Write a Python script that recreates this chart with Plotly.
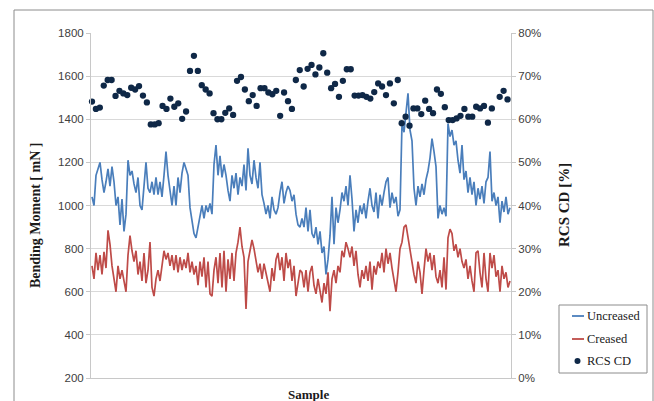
import numpy as np
import plotly.graph_objects as go

# Bending moment per sample [mN]
uncreased = [
    1040, 1000, 1140, 1170, 1200, 1120, 1060, 1110, 1170, 1090,
    1180, 1110, 1000, 1040, 910, 1030, 880, 960, 1210, 1140,
    1160, 1100, 1060, 1130, 1000, 980, 1110, 1200, 1080, 1060,
    1110, 1050, 1130, 1050, 1110, 1040, 1140, 1250, 1140, 1070,
    1000, 1090, 1000, 1130, 1060, 1150, 1200, 1170, 1140, 990,
    920, 870, 850,
    900, 950, 1000, 940, 1000, 970, 1010, 960, 1190, 1280,
    1140, 1230, 1130, 1190, 1140, 1070, 1020, 1140, 1080, 1150,
    1050, 1130, 1090, 1190, 1070, 1265, 1140, 1100, 1210, 1130,
    1080, 1200, 1050, 1010, 960, 1000, 940, 1040, 980, 960,
    990, 1060, 1110, 1010, 1060, 1090, 1070, 1020, 1050, 960,
    910, 900,
    940, 900, 990, 880, 980, 870, 850, 900, 820, 880,
    780, 810, 680, 750, 860, 1040, 820, 990, 920, 980,
    1060, 1020, 1090, 1000, 1140, 1030, 880, 980, 920, 1000,
    960, 1010, 940, 1020, 1080, 1000, 970, 1060, 940, 1050,
    1000, 1060, 1110, 1130, 990, 1060, 1010, 1040, 950, 980,
    1380, 1340, 1420, 1520, 1350, 1300, 1080, 1000, 1090, 1040,
    1100, 1050, 1120, 1160, 1220, 1310, 1250, 1180, 940, 1000,
    960, 990, 950, 1380, 1320, 1350, 1280, 1300, 1210, 1150,
    1280, 1120, 1160, 1060, 1130, 1050, 1110, 1000, 1080, 1030,
    1090, 1010, 1110, 1130, 1250, 1020, 1060, 1000, 1040, 920,
    1020, 970, 1040, 960, 990,
]

creased = [
    720, 660, 780, 700, 770, 680, 785, 710, 885, 820,
    720, 660, 600, 720, 660, 700, 640, 600, 770, 860,
    790, 740, 790, 680, 740, 650, 780, 640, 700, 830,
    620, 580, 660, 700, 650, 720, 790, 750, 780, 720,
    770, 700, 770, 690, 760, 700, 750, 710, 780, 690,
    740, 680, 720,
    630, 740, 670, 760, 620, 740, 590, 580, 700, 760,
    640, 780, 620, 790, 600, 750, 660, 780, 650, 780,
    830, 900, 810, 760, 520, 740, 790, 840, 800, 750,
    690, 730, 660, 730, 690, 640, 600, 710, 650, 750,
    780, 700, 760, 650, 780, 710, 750, 650, 720, 580,
    650, 700,
    690, 620, 700, 600, 690, 720, 630, 590, 660, 610,
    550, 640, 590, 690, 510, 660, 700, 640, 720, 690,
    790, 760, 830, 800, 760, 810, 720, 790, 680, 620,
    700, 660, 720, 650, 740, 610, 720, 680, 740, 710,
    780, 690, 800, 730, 780, 710, 660, 600, 690, 800,
    830, 900,
    910, 850, 800, 740, 680, 640, 740, 690, 590, 700,
    800, 740, 780, 700, 770, 670, 640, 700, 620, 760,
    610, 850, 890, 870, 790, 820, 760, 800, 740, 710,
    750, 660, 720, 650, 600, 780, 790, 690, 620, 780,
    660, 600, 780, 710, 770, 670, 700, 600, 720, 660,
    690, 620, 650,
]

# RCS CD [%], one value every ~2 bending samples (one missing reading)
rcs_cd = [
    64.1, 62.4, 62.7, 67.8, 69.1, 69.1, 65.4, 66.6, 66.0, 65.6,
    67.3, 66.9, 67.7, 65.5, 63.9, 58.8, 58.8, 59.1, 63.1, 62.4,
    64.8, 62.9, 63.7, 60.1, 61.8, 71.2, 74.7, 71.2, 67.9, 66.9,
    66.0, 61.4, 60.0, 60.0, 61.5, 62.5, 61.0, 68.9, 69.8, 66.9,
    64.2, 65.6, 63.1, 67.2, 67.2, 66.2, 65.8, 66.6, 60.8, 66.2,
    64.2, 62.4, 69.1, 71.4, 67.6, 71.7, 72.6, 70.4, 72.0, 75.3,
    70.8, 67.2, 68.2, 65.2, 68.9, 71.6, 71.6, 65.5, 65.5, 65.6,
    65.2, 64.8, 66.3, 68.3, 67.6, 65.6, 68.3, 63.7, 69.1, 59.1,
    60.6, 58.5, 62.5, 62.5, 61.2, 64.3, 62.4, 61.4, 66.9, 65.9,
    62.8, 59.8, 59.8, 60.2, 60.8, 62.4, 60.6, 60.6, 62.9, 62.5,
    63.1, 59.2, 62.5, None, 65.2, 66.6, 64.6,
]

left_ticks = list(range(200, 1801, 200))
right_ticks = list(range(0, 81, 10))
right_labels = [f"{v}%" for v in right_ticks]

BLUE = "#4a7ebb"
RED = "#be4b48"
NAVY = "#0f2847"
GRID = "#d9d9d9"
TICKFONT = dict(family="Liberation Sans, Arial", size=11.5, color="#404040")
SERIF = "Liberation Serif"

W, H = 654, 401
PL, PR, PT, PB = 91, 511, 33, 378  # plot-area edges in pixels

x_line = np.arange(len(uncreased))
x_dots = np.arange(len(rcs_cd)) * 1.96


def px(x):
    return (x - PL) / (PR - PL)


def py(y):
    return (PB - y) / (PB - PT)


fig = go.Figure()
fig.add_trace(go.Scatter(x=x_line, y=uncreased, mode="lines", name="Uncreased",
                         line=dict(color=BLUE, width=1.7)))
fig.add_trace(go.Scatter(x=x_line, y=creased, mode="lines", name="Creased",
                         line=dict(color=RED, width=1.7)))
fig.add_trace(go.Scatter(x=x_dots, y=rcs_cd, mode="markers", name="RCS CD",
                         yaxis="y2", cliponaxis=False,
                         marker=dict(color=NAVY, size=6.3)))

shapes = [
    # outer chart border
    dict(type="rect", xref="paper", yref="paper", x0=px(14), x1=px(653),
         y0=py(10), y1=py(420), line=dict(color="#8c8c8c", width=1),
         fillcolor="rgba(0,0,0,0)", layer="below"),
    # legend box
    dict(type="rect", xref="paper", yref="paper", x0=px(559), x1=px(647),
         y0=py(373), y1=py(305), line=dict(color="#8c8c8c", width=1),
         fillcolor="white"),
    dict(type="line", xref="paper", yref="paper", x0=px(572), x1=px(584),
         y0=py(316), y1=py(316), line=dict(color=BLUE, width=1.8)),
    dict(type="line", xref="paper", yref="paper", x0=px(572), x1=px(584),
         y0=py(339), y1=py(339), line=dict(color=RED, width=1.8)),
    dict(type="circle", xref="paper", yref="paper", x0=px(574.5), x1=px(580.5),
         y0=py(364), y1=py(358), line=dict(color=NAVY, width=0), fillcolor=NAVY),
]

annotations = [
    dict(text="<b>Bending Moment [ mN ]</b>", xref="paper", yref="paper",
         x=px(35), y=py(216), textangle=-90, showarrow=False,
         font=dict(family=SERIF, size=14, color="#1a1a1a"),
         xanchor="center", yanchor="middle"),
    dict(text="<b>RCS CD [%]</b>", xref="paper", yref="paper",
         x=px(564), y=py(205), textangle=-90, showarrow=False,
         font=dict(family=SERIF, size=15, color="#1a1a1a"),
         xanchor="center", yanchor="middle"),
    dict(text="<b>Sample</b>", xref="paper", yref="paper",
         x=px(308), y=py(394), showarrow=False,
         font=dict(family=SERIF, size=13, color="#1a1a1a"),
         xanchor="center", yanchor="middle"),
]
for label, yy in (("Uncreased", 316), ("Creased", 339), ("RCS CD", 361)):
    annotations.append(dict(text=label, xref="paper", yref="paper",
                            x=px(585), y=py(yy), showarrow=False,
                            xanchor="left", yanchor="middle",
                            font=dict(family=SERIF, size=12.5, color="#1a1a1a")))

fig.update_layout(
    width=W, height=H,
    margin=dict(l=PL, r=W - PR, t=PT, b=H - PB, pad=0),
    paper_bgcolor="white", plot_bgcolor="white",
    showlegend=False,
    shapes=shapes, annotations=annotations,
    xaxis=dict(range=[-0.5, len(uncreased) - 0.5], showticklabels=False,
               showgrid=False, zeroline=False, showline=True,
               linecolor="#c8c8c8", linewidth=1, ticks=""),
    yaxis=dict(range=[200, 1800], tickvals=left_ticks, showgrid=True,
               gridcolor=GRID, gridwidth=1, zeroline=False, showline=True,
               linecolor="#c8c8c8", linewidth=1, ticks="outside",
               ticklen=4, tickcolor="#c8c8c8", tickfont=TICKFONT),
    yaxis2=dict(range=[0, 80], tickvals=right_ticks, ticktext=right_labels,
                overlaying="y", side="right", showgrid=False, zeroline=False,
                showline=True, linecolor="#c8c8c8", linewidth=1,
                ticks="outside", ticklen=4, tickcolor="#c8c8c8",
                tickfont=TICKFONT),
)

fig.write_html("out.html", config={"displayModeBar": False})
